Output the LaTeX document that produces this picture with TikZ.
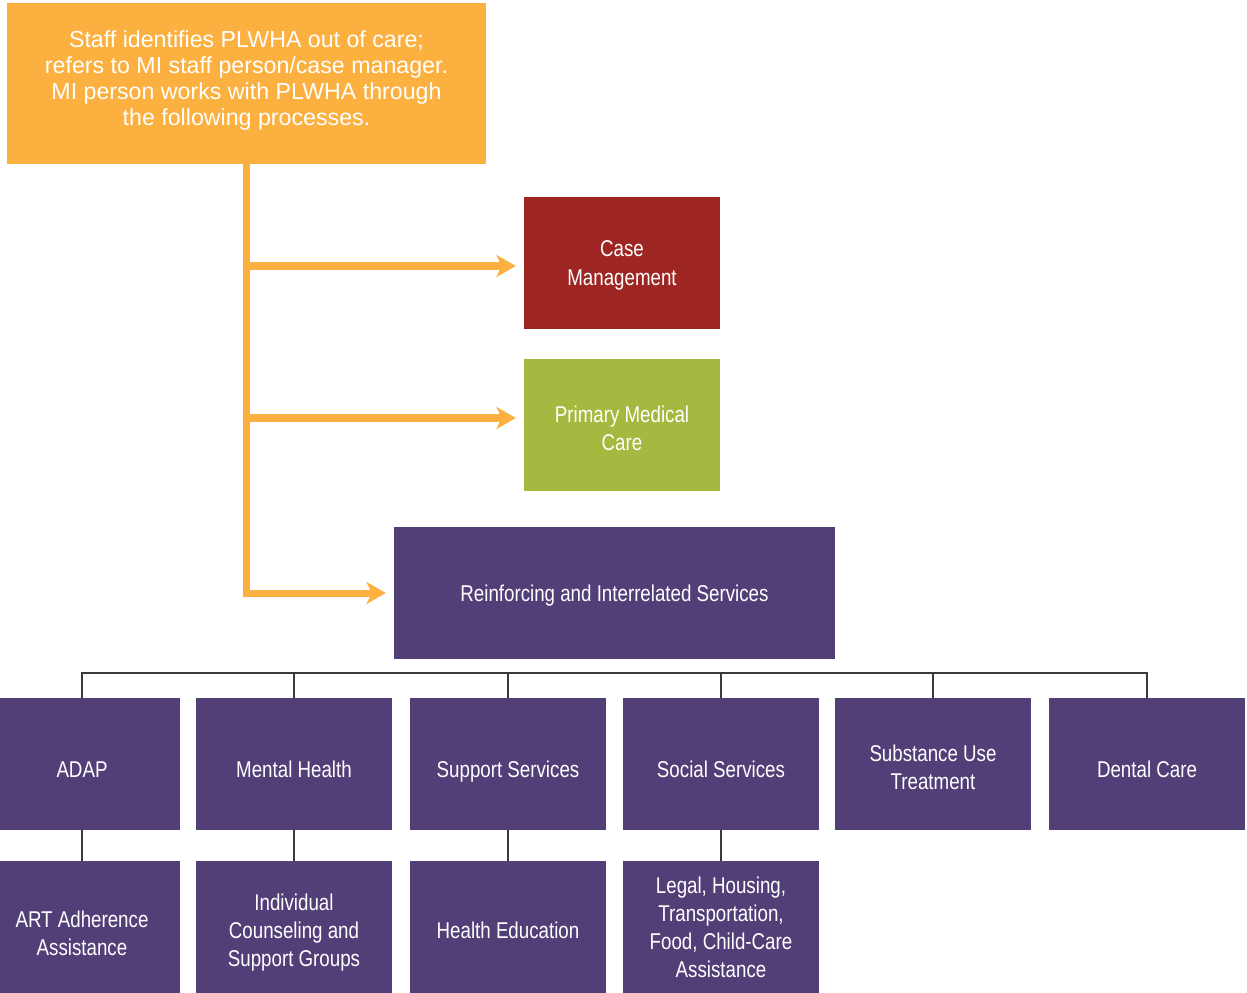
\documentclass[tikz,border=0pt]{standalone}
\usepackage{fontspec}
\setmainfont{Liberation Sans}
\newfontfamily\narrowfont[FakeStretch=0.82]{Liberation Sans}
\usetikzlibrary{positioning,arrows.meta}
\definecolor{miorange}{HTML}{FBB040}
\definecolor{mired}{HTML}{9E2622}
\definecolor{migreen}{HTML}{A6B840}
\definecolor{mipurple}{HTML}{533F78}
\definecolor{mitree}{HTML}{3A3A3A}
\tikzset{feed/.style={draw=miorange, line width=4pt, -{Stealth[length=11pt,width=12.5pt,inset=3pt]}, shorten >=4.5pt}}
\tikzset{tree/.style={draw=mitree, line width=0.8pt}}
\tikzset{drop/.style={execute at begin node={\rule{0pt}{#1}}}}

\begin{document}
\begin{tikzpicture}[x=0.02cm, y=-0.02cm,
  box/.style = {fill=mipurple, text=white, align=center, text depth=0pt, minimum width=3.92cm, minimum height=2.64cm, inner sep=2pt, font=\narrowfont\fontsize{13}{16}\selectfont},
  staffbox/.style = {fill=miorange, minimum width=9.58cm, minimum height=3.22cm}]
\useasboundingbox (0,0) rectangle (1247,992);
% top box
\node[staffbox] (staff) at (246.5,83.5) {};
\node[text=white, align=center, font=\fontsize{13.2}{14.7}\selectfont] (staffnote) at (246.5,80.5) {Staff identifies PLWHA out of care;\\refers to MI staff person/case manager.\\MI person works with PLWHA through\\the following processes.};
% main services
\node[box,fill=mired] (case) at (622,263) {Case\\Management};
\node[box,fill=migreen,drop=28.9pt] (pmc) at (622,425) {Primary Medical\\Care};
\node[box,minimum width=8.82cm] (reinf) at (614.5,593) {Reinforcing and Interrelated Services};
% second row
\node[box,drop=15pt] (adap) at (82,764) {ADAP};
\node[box,drop=15pt] (mh) at (294,764) {Mental Health};
\node[box,drop=15pt] (ss) at (508,764) {Support Services};
\node[box,drop=15pt] (soc) at (721,764) {Social Services};
\node[box,drop=29.5pt] (sub) at (933,764) {Substance Use\\Treatment};
\node[box,drop=15pt] (dent) at (1147,764) {Dental Care};
% third row
\node[box,drop=32.3pt] (art) at (82,927) {ART Adherence\\Assistance};
\node[box,drop=44.9pt] (coun) at (294,927) {Individual\\Counseling and\\Support Groups};
\node[box,drop=12.9pt] (hed) at (508,927) {Health Education};
\node[box] (legal) at (721,927) {Legal, Housing,\\Transportation,\\Food, Child-Care\\Assistance};
% orange arrows
\coordinate (casein) at ([yshift=-1.7pt]case.west);
\coordinate (pmcin) at ([yshift=4pt]pmc.west);
\draw[feed] (staff.south) |- (reinf.west);
\draw[feed] (staff.south |- casein) -- (casein);
\draw[feed] (staff.south |- pmcin) -- (pmcin);
% tree lines
\coordinate (bus) at (0,673);
\draw[tree] (adap.north) |- (dent.north |- bus) -- (dent.north);
\draw[tree] (mh.north) -- (mh.north |- bus);
\draw[tree] (ss.north) -- (ss.north |- bus);
\draw[tree] (soc.north) -- (soc.north |- bus);
\draw[tree] (sub.north) -- (sub.north |- bus);
\draw[tree] (adap.south) -- (art.north);
\draw[tree] (mh.south) -- (coun.north);
\draw[tree] (ss.south) -- (hed.north);
\draw[tree] (soc.south) -- (legal.north);
\end{tikzpicture}
\end{document}
